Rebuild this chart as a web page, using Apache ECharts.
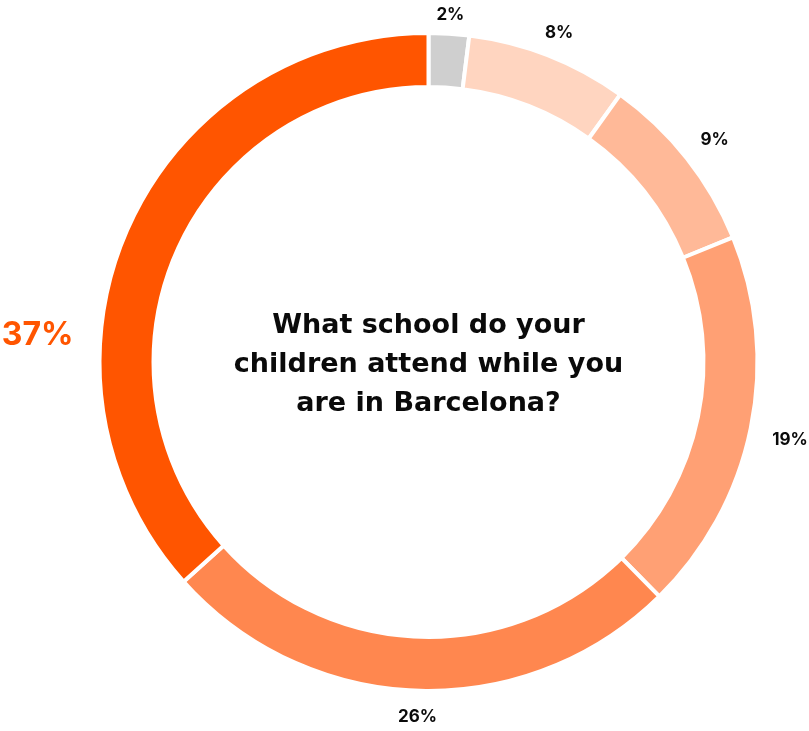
<!DOCTYPE html>
<html>
<head>
<meta charset="utf-8">
<script src="https://cdn.jsdelivr.net/npm/echarts@6/dist/echarts.min.js"></script>
<style>
  html, body { margin: 0; padding: 0; background: #fff; }
  #chart { width: 809px; height: 731px; }
</style>
</head>
<body>
<div id="chart"></div>
<script>
// Survey answers, clockwise from the top
const categories = ['Other', 'Option E', 'Option D', 'Option C', 'Option B', 'Option A'];
const shares = [2, 8, 9, 19, 26, 37];
const sliceColors = ['#CFCFCF', '#FFD5C0', '#FFB998', '#FFA074', '#FF874F', '#FF5500'];
const question = ['What school do your', 'children attend while you', 'are in Barcelona?'];

// Ring geometry
const CX = 428.5, CY = 362;
const R_IN = 275, R_OUT = 329;
const LABEL_GAP = 13;
const highlightIndex = shares.indexOf(Math.max(...shares));

const total = shares.reduce((a, b) => a + b, 0);
const midAngles = [];
{
  let acc = 0;
  shares.forEach(v => {
    midAngles.push((acc + v / 2) / total * 2 * Math.PI);
    acc += v;
  });
}

const chart = echarts.init(document.getElementById('chart'), null, { renderer: 'canvas' });

chart.setOption({
  backgroundColor: '#ffffff',
  animation: false,
  graphic: [{
    type: 'text',
    x: CX,
    y: CY + 3,
    style: {
      text: question.join('\n'),
      fontFamily: 'DejaVu Sans',
      fontWeight: 700,
      fontSize: 27,
      lineHeight: 39,
      fill: '#0A0A0A',
      align: 'center',
      verticalAlign: 'middle'
    }
  }],
  series: [{
    type: 'pie',
    center: [CX, CY],
    radius: [R_IN, R_OUT],
    startAngle: 90,
    clockwise: true,
    avoidLabelOverlap: false,
    itemStyle: { borderColor: '#ffffff', borderWidth: 4 },
    label: {
      show: true,
      position: 'outside',
      formatter: p => p.value + '%',
      fontFamily: 'Inter',
      fontWeight: 700,
      fontSize: 17,
      color: '#0A0A0A'
    },
    labelLine: { show: false },
    emphasis: { disabled: true },
    labelLayout: function (params) {
      const i = params.dataIndex;
      const w = params.labelRect.width, h = params.labelRect.height;
      if (i === highlightIndex) {
        return { x: CX - R_OUT - 26, y: CY - 27, align: 'right', verticalAlign: 'middle' };
      }
      // place each value just outside its slice, along the slice's middle angle
      const a = midAngles[i];
      const s = Math.sin(a), c = Math.cos(a);
      const r = R_OUT + LABEL_GAP + Math.abs(s) * (w / 2 + 8) + Math.abs(c) * h / 2;
      return { x: CX + r * s, y: CY - r * c + 4, align: 'center', verticalAlign: 'middle' };
    },
    data: shares.map((v, i) => ({
      name: categories[i],
      value: v,
      itemStyle: { color: sliceColors[i] },
      label: i === highlightIndex ? { fontSize: 32, color: '#FF5500' } : undefined
    }))
  }]
});
</script>
</body>
</html>
